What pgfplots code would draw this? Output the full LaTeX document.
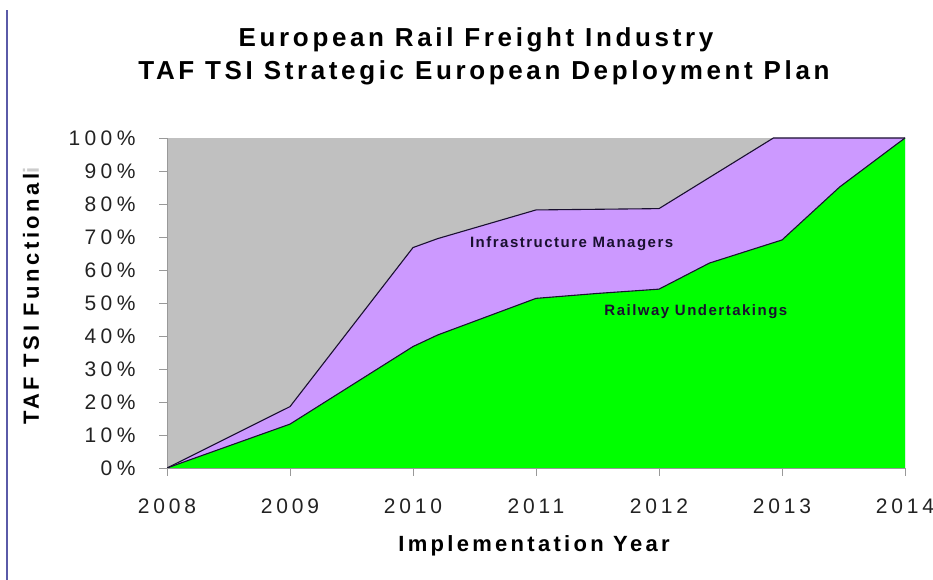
\documentclass[border=0pt]{standalone}
\usepackage{fontspec}
\setmainfont{Liberation Sans}
\usepackage{pgfplots}
\usepackage{pgfplotstable}
\pgfplotsset{compat=1.18}
\definecolor{bgGray}{HTML}{C0C0C0}
\definecolor{imPurple}{HTML}{CC99FF}
\definecolor{ruGreen}{HTML}{00FF00}
\definecolor{edge}{HTML}{1A1030}
\definecolor{sideBlue}{HTML}{5A5AA8}
\definecolor{tickText}{HTML}{222222}
\pgfplotstableread{
x y
2008 0
2009 18.6
2010 66.8
2010.2 69.5
2011 78.2
2011.5 78.4
2012 78.6
2012.93 100
2013 100
2014 100
}\topdata
\pgfplotstableread{
x y
2008 0
2009 13.3
2010 36.8
2010.2 40.3
2011 51.4
2011.5 52.9
2012 54.2
2012.41 62.1
2013 69.1
2013.47 85.2
2014 100
}\rudata
\begin{document}
\begin{tikzpicture}[x=1pt,y=1pt]
\useasboundingbox (0,0) rectangle (933,580);
\draw[sideBlue, line width=2pt] (7,0) -- (7,570);
\node[anchor=base, font=\bfseries\fontsize{26}{30}\selectfont\addfontfeature{LetterSpace=14}] at (476,533) {European Rail Freight Industry};
\node[anchor=base, font=\bfseries\fontsize{26}{30}\selectfont\addfontfeature{LetterSpace=14}] at (484,500) {TAF TSI Strategic European Deployment Plan};
\node[anchor=base, font=\bfseries\fontsize{22}{26}\selectfont\addfontfeature{LetterSpace=15}] at (534,28) {Implementation Year};
\node[anchor=center, rotate=90, font=\bfseries\fontsize{22}{26}\selectfont\addfontfeature{LetterSpace=16}] at (31,284) {TAF TSI Functional\textcolor{gray!40}{i}};
\begin{axis}[
  at={(167pt,112pt)}, anchor=south west,
  width=738pt, height=330pt, scale only axis,
  xmin=2008, xmax=2014, ymin=0, ymax=100,
  axis lines=left, axis line style={draw=gray!80, -},
  axis background/.style={fill=bgGray},
  xtick={2008,...,2014}, ytick={0,10,...,100},
  tick style={draw=gray!80, line width=0.6pt},
  major tick length=8pt,
  tick align=outside,
  xticklabel style={/pgf/number format/1000 sep={}, yshift=-19pt, text=tickText, font=\fontsize{21}{23}\selectfont\addfontfeature{LetterSpace=18}},
  yticklabel={\pgfmathprintnumber{\tick}\%},
  yticklabel style={xshift=-20pt, text=tickText, font=\fontsize{21}{23}\selectfont\addfontfeature{LetterSpace=21}},
  /pgf/number format/assume math mode=true,
  clip=true,
]
\addplot[fill=imPurple, draw=none] table[x=x,y=y] {\topdata} \closedcycle;
\addplot[fill=ruGreen, draw=none] table[x=x,y=y] {\rudata} \closedcycle;
\addplot[edge, line width=1.1pt] table[x=x,y=y] {\topdata};
\addplot[edge, line width=1.1pt] table[x=x,y=y] {\rudata};
\node[font=\bfseries\fontsize{15}{17}\selectfont\addfontfeature{LetterSpace=10}, text=edge] at (axis cs:2011.29,67.9) {Infrastructure Managers};
\node[font=\bfseries\fontsize{15}{17}\selectfont\addfontfeature{LetterSpace=10}, text=edge] at (axis cs:2012.30,47.3) {Railway Undertakings};
\end{axis}
\end{tikzpicture}
\end{document}
